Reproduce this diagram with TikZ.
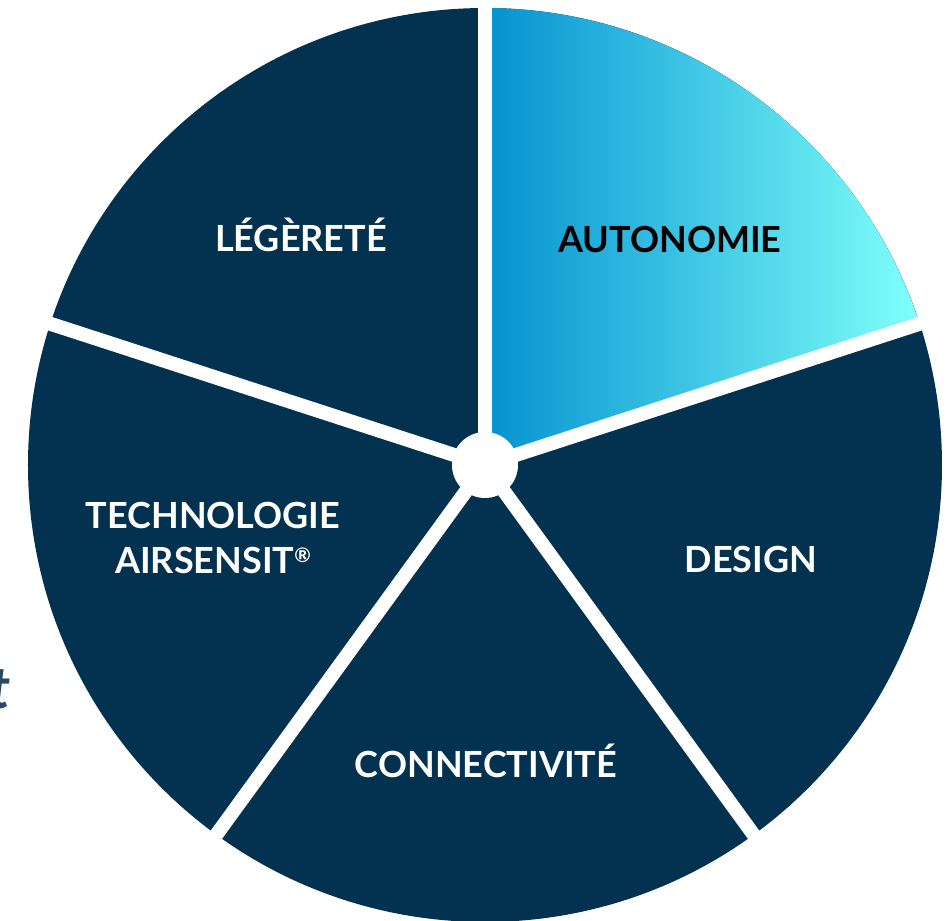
\documentclass[tikz,border=0pt]{standalone}
\usepackage{fontspec}
\setmainfont{Lato}
\usetikzlibrary{positioning}
\definecolor{navy}{RGB}{2,50,79}
\definecolor{bluestart}{RGB}{4,146,208}
\definecolor{blueend}{RGB}{128,255,250}
\definecolor{slate}{RGB}{40,74,102}
\begin{document}
\begin{tikzpicture}[x=1pt,y=1pt,
  segtext/.style={font=\bfseries\fontsize{36}{45}\selectfont, text=white, align=center, inner sep=0pt, anchor=base},
  sep/.style={draw=white, line width=14pt}]
\useasboundingbox (-485,-456) rectangle (461,465);
\coordinate (c) at (0,0);
\fill[navy] (c) circle (457);
\shade[left color=bluestart, right color=blueend] (c) -- (90:457) arc (90:18:457) -- cycle;
\foreach \a [count=\i] in {90,18,-54,-126,162}
  \coordinate (r\i) at (\a:470);
\foreach \i in {1,...,5}{
\draw[sep] (c) -- (r\i);};
\fill[white] (c) circle (33);
\node[segtext] (legerete) at (-184,213) {LÉGÈRETÉ};
\node[segtext, text=black] (autonomie) at (185,212) {AUTONOMIE};
\node[segtext] (techno) at (-272,-108) {TECHNOLOGIE\\AIRSENSIT{\fontsize{20}{20}\selectfont\raisebox{10pt}{®}}};
\node[segtext] (design) at (266,-107) {DESIGN};
\node[segtext] (connect) at (1,-312) {CONNECTIVITÉ};
\node[font=\bfseries\itshape\fontsize{58}{58}\selectfont, text=slate, inner sep=0pt, anchor=base east] (frag) at (-474,-243) {t};
\end{tikzpicture}
\end{document}
